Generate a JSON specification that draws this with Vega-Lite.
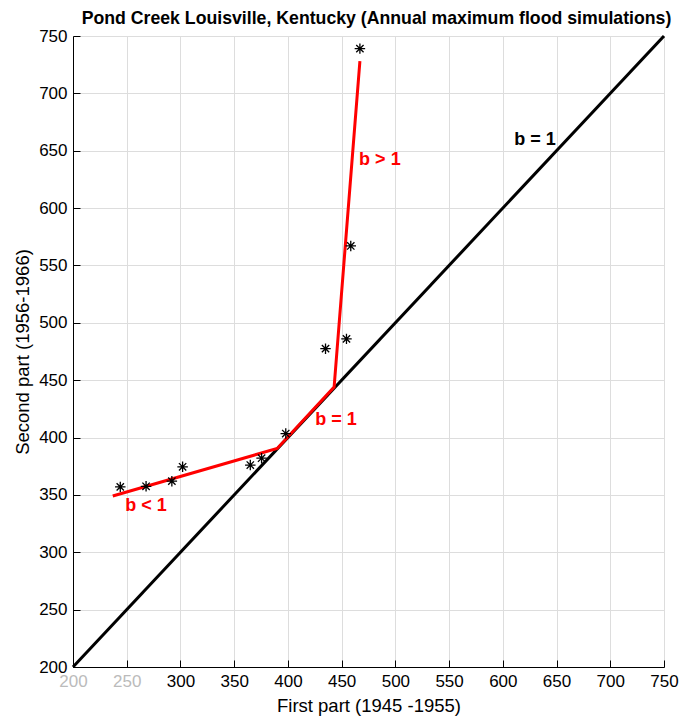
{
  "$schema": "https://vega.github.io/schema/vega-lite/v6.json",
  "width": 591,
  "height": 631,
  "autosize": {"type": "none"},
  "padding": {"left": 73, "top": 36, "right": 16, "bottom": 50},
  "background": "white",
  "title": {
    "text": "Pond Creek Louisville, Kentucky (Annual maximum flood simulations)",
    "font": "Liberation Sans",
    "fontSize": 17.7,
    "fontWeight": "bold",
    "color": "black",
    "offset": -1,
    "dx": 8,
    "anchor": "middle"
  },
  "config": {
    "font": "Liberation Sans",
    "view": {"stroke": null}
  },
  "datasets": {
    "identity": [{"x": 200, "y": 200}, {"x": 750, "y": 750}],
    "fit": [
      {"x": 237, "y": 349},
      {"x": 390, "y": 390.5},
      {"x": 443, "y": 444},
      {"x": 467, "y": 728}
    ],
    "obs": [
      {"x": 244, "y": 357},
      {"x": 268, "y": 357.5},
      {"x": 292, "y": 362},
      {"x": 302, "y": 374.5},
      {"x": 365, "y": 376},
      {"x": 375.5, "y": 382},
      {"x": 398, "y": 403.5},
      {"x": 435, "y": 477.5},
      {"x": 454.5, "y": 486},
      {"x": 458.5, "y": 567},
      {"x": 467, "y": 739}
    ],
    "redlabels": [
      {"x": 268, "y": 340, "label": "b < 1"},
      {"x": 444.7, "y": 415, "label": "b = 1"},
      {"x": 485.6, "y": 642, "label": "b > 1"}
    ],
    "blacklabels": [
      {"x": 630, "y": 659, "label": "b = 1"}
    ]
  },
  "encoding": {
    "x": {
      "field": "x",
      "type": "quantitative",
      "scale": {"domain": [200, 750], "nice": false, "zero": false},
      "axis": {
        "title": "First part (1945 -1955)",
        "values": [200, 250, 300, 350, 400, 450, 500, 550, 600, 650, 700, 750],
        "grid": true,
        "gridColor": "#dddddd",
        "domainColor": "black",
        "tickColor": "black",
        "tickSize": -7,
        "labelFont": "Liberation Sans",
        "labelFontSize": 17,
        "labelFlush": false,
        "labelOverlap": false,
        "labelColor": {"condition": {"test": "datum.value <= 250", "value": "#bbbbbb"}, "value": "black"},
        "labelPadding": 13,
        "titleFont": "Liberation Sans",
        "titleFontSize": 18.5,
        "titleFontWeight": "normal",
        "titleColor": "black",
        "titlePadding": 7
      }
    },
    "y": {
      "field": "y",
      "type": "quantitative",
      "scale": {"domain": [200, 750], "nice": false, "zero": false},
      "axis": {
        "title": "Second part (1956-1966)",
        "values": [200, 250, 300, 350, 400, 450, 500, 550, 600, 650, 700, 750],
        "grid": true,
        "gridColor": "#dddddd",
        "domainColor": "black",
        "tickColor": "black",
        "tickSize": -7,
        "labelFont": "Liberation Sans",
        "labelFontSize": 17,
        "labelFlush": false,
        "labelOverlap": false,
        "labelColor": "black",
        "labelPadding": 13,
        "titleFont": "Liberation Sans",
        "titleFontSize": 18.5,
        "titleFontWeight": "normal",
        "titleColor": "black",
        "titlePadding": 6
      }
    }
  },
  "layer": [
    {
      "data": {"name": "identity"},
      "mark": {"type": "line", "color": "black", "strokeWidth": 3}
    },
    {
      "data": {"name": "fit"},
      "mark": {"type": "line", "color": "#ff0000", "strokeWidth": 3}
    },
    {
      "data": {"name": "obs"},
      "mark": {
        "type": "point",
        "shape": "M-1,0L1,0M0,-1L0,1M-0.7,-0.7L0.7,0.7M-0.7,0.7L0.7,-0.7",
        "filled": false,
        "stroke": "black",
        "strokeWidth": 1.3,
        "size": 110,
        "opacity": 1
      }
    },
    {
      "data": {"name": "redlabels"},
      "mark": {"type": "text", "color": "#ff0000", "fontSize": 18, "fontWeight": "bold", "align": "center", "baseline": "middle"},
      "encoding": {"text": {"field": "label"}}
    },
    {
      "data": {"name": "blacklabels"},
      "mark": {"type": "text", "color": "black", "fontSize": 18, "fontWeight": "bold", "align": "center", "baseline": "middle"},
      "encoding": {"text": {"field": "label"}}
    }
  ]
}
